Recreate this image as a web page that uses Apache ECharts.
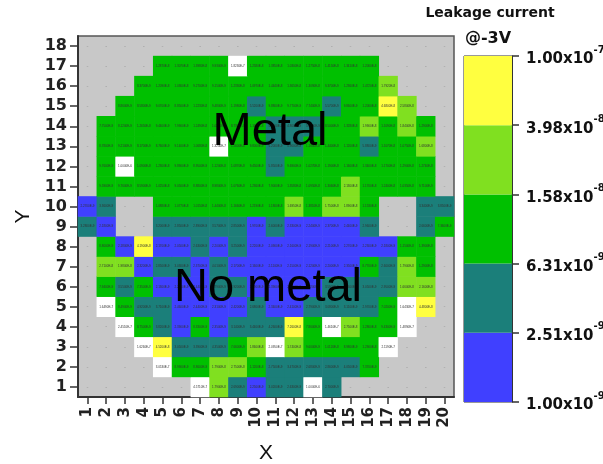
<!DOCTYPE html>
<html>
<head>
<meta charset="utf-8">
<script src="https://cdn.jsdelivr.net/npm/echarts@6/dist/echarts.min.js"></script>
<style>
  html, body { margin: 0; padding: 0; background: #ffffff; }
  #chart { width: 603px; height: 464px; }
</style>
</head>
<body>
<div id="chart"></div>
<script>
// Wafer map: die columns (X) and rows (Y)
const xLabels = ['1','2','3','4','5','6','7','8','9','10','11','12','13','14','15','16','17','18','19','20'];
const yLabels = ['1','2','3','4','5','6','7','8','9','10','11','12','13','14','15','16','17','18'];

// Leakage current at -3 V for each die, in nA; one list per row, X = 1..20; null = die not measured
const row01 = [null,null,null,null,null,null,457.1,17.9,2.69,2.25,3.02,2.63,1000,2.70,null,null,null,null,null,null];
const row02 = [null,null,null,null,305.3,8.99,8.86,17.9,27.5,11.2,2.75,3.47,2.68,2.86,4.05,7.37,null,null,null,null];
const row03 = [null,null,null,162.6,45.2,3.05,3.39,4.35,7.66,18.6,209.5,17.4,9.60,10.12,8.98,12.90,211.9,null,null,null];
const row04 = [null,null,245.1,8.75,3.82,2.39,8.33,2.35,3.14,3.44,4.26,72.6,7.86,146.1,27.5,12.86,9.43,148.9,null,null];
const row05 = [null,164.9,8.49,4.92,3.71,2.46,2.44,2.31,2.42,2.68,2.34,2.41,2.79,3.08,3.11,2.97,7.02,164.3,44.8,null];
const row06 = [null,7.94,3.55,7.35,2.13,2.28,2.44,2.79,2.92,2.29,2.39,2.18,2.22,3.59,3.26,3.05,2.95,16.6,21.6,null];
const row07 = [null,27.1,19.8,2.32,2.85,3.03,2.37,4.01,2.17,2.16,2.11,2.15,2.12,2.20,2.35,8.77,2.60,17.9,12.9,null];
const row08 = [null,8.80,2.18,41.9,2.17,2.05,2.63,2.20,3.25,2.22,2.09,2.16,2.19,2.21,2.27,2.23,2.18,11.5,13.9,null];
const row09 = [3.28,2.18,null,null,3.20,2.85,2.89,3.57,2.85,1.97,2.60,2.33,2.24,2.37,2.44,2.96,null,null,2.66,7.36];
const row10 = [2.27,3.36,null,null,10.88,10.77,10.15,14.40,11.66,12.19,11.80,16.95,13.81,17.50,18.90,11.53,null,null,3.34,3.85];
const row11 = [null,9.59,9.76,8.59,10.25,9.05,8.88,8.98,10.76,12.36,7.90,13.58,10.95,13.06,21.30,11.70,12.40,10.35,9.71,null];
const row12 = [null,9.76,1000,10.90,12.30,9.89,8.95,11.20,10.87,9.45,5.85,9.69,10.27,11.90,11.60,13.40,11.70,12.90,12.74,null];
const row13 = [null,8.78,9.21,8.17,8.76,9.14,10.68,132.4,12.60,9.80,5.20,4.90,11.60,14.40,11.20,5.88,11.07,10.75,16.80,null];
const row14 = [null,7.75,8.12,12.65,9.44,7.99,12.49,10.20,8.73,11.60,5.90,4.80,5.60,8.50,13.28,19.90,11.09,18.40,12.90,null];
const row15 = [null,null,8.86,8.58,9.07,8.85,12.23,9.48,11.98,5.52,9.88,9.77,7.74,5.57,9.86,12.06,46.8,25.8,null,null];
const row16 = [null,null,null,8.37,12.09,10.36,9.27,9.15,12.33,10.97,14.44,13.65,13.09,9.37,12.36,14.72,17.92,null,null,null];
const row17 = [null,null,null,null,12.87,13.07,13.98,9.93,182.3,12.58,13.85,10.30,12.75,14.15,13.41,12.06,null,null,null,null];
const row18 = [null,null,null,null,null,null,null,null,null,null,null,null,null,null,null,null,null,null,null,null];

// Colour bands of the scale (nA) and their tick labels
const bandEdges = [1, 2.51, 6.31, 15.8, 39.8, 100];
const bandColors = ['#4040ff', '#1b7f7a', '#00c000', '#80e020', '#ffff40'];
const colorbarTicks = ['1.00x10^-9', '2.51x10^-9', '6.31x10^-9', '1.58x10^-8', '3.98x10^-8', '1.00x10^-7'];

const rows = [row01,row02,row03,row04,row05,row06,row07,row08,row09,row10,row11,row12,row13,row14,row15,row16,row17,row18];
const cells = [];
const blanks = [];
rows.forEach((row, yi) => row.forEach((v, xi) => {
  if (v == null) blanks.push([xi, yi]);
  else cells.push([xi, yi, v]);
}));

const pieces = [{ gte: bandEdges[5], color: '#ffffff' }];
for (let i = bandColors.length - 1; i >= 0; i--) {
  const p = { color: bandColors[i] };
  if (i > 0) p.gte = bandEdges[i];
  p.lt = bandEdges[i + 1];
  pieces.push(p);
}

const boldFont = 'DejaVu Sans';
const chart = echarts.init(document.getElementById('chart'), null, { renderer: 'canvas' });

chart.setOption({
  animation: false,
  grid: [
    { left: 78, top: 36, width: 376, height: 361, outerBoundsMode: 'none', show: true, backgroundColor: '#c8c8c8', borderColor: '#555', borderWidth: 1.5 },
    { left: 464, top: 56, width: 48, height: 346, outerBoundsMode: 'none', show: true, borderColor: '#333', borderWidth: 1 }
  ],
  xAxis: [
    {
      type: 'category', gridIndex: 0, data: xLabels,
      name: 'X', nameLocation: 'middle', nameGap: 46,
      nameTextStyle: { fontSize: 21, fontFamily: 'Liberation Sans', color: '#111' },
      axisLine: { show: true, lineStyle: { color: '#333', width: 2 } },
      axisTick: { show: true, interval: 0, alignWithLabel: true, length: 7, lineStyle: { color: '#333', width: 1.5 } },
      axisLabel: { interval: 0, rotate: 90, margin: 10, fontSize: 15, fontWeight: 'bold', fontFamily: boldFont, color: '#222' },
      splitLine: { show: false }
    },
    { type: 'category', gridIndex: 1, data: ['scale'], show: false, boundaryGap: true }
  ],
  yAxis: [
    {
      type: 'category', gridIndex: 0, data: yLabels,
      name: 'Y', nameLocation: 'middle', nameGap: 42,
      nameTextStyle: { fontSize: 21, fontFamily: 'Liberation Sans', color: '#111' },
      axisLine: { show: true, lineStyle: { color: '#333', width: 2 } },
      axisTick: { show: true, interval: 0, alignWithLabel: true, length: 8, lineStyle: { color: '#333', width: 1.5 } },
      axisLabel: { interval: 0, margin: 11, fontSize: 16, fontWeight: 'bold', fontFamily: boldFont, color: '#222' },
      splitLine: { show: false }
    },
    {
      type: 'value', gridIndex: 1, min: 0, max: 5, interval: 1, position: 'right',
      axisLine: { show: true, lineStyle: { color: '#333', width: 1 } },
      axisTick: { show: true, length: 7, lineStyle: { color: '#333', width: 1.5 } },
      splitLine: { show: false },
      axisLabel: {
        margin: 14,
        formatter: (v) => {
          const parts = colorbarTicks[v].split('^');
          return '{b|' + parts[0] + '}{s|' + parts[1] + '}';
        },
        rich: {
          b: { fontSize: 15, fontWeight: 'bold', fontFamily: boldFont, color: '#111', lineHeight: 22, verticalAlign: 'bottom' },
          s: { fontSize: 10, fontWeight: 'bold', fontFamily: boldFont, color: '#111', lineHeight: 10, verticalAlign: 'top' }
        }
      }
    }
  ],
  visualMap: {
    type: 'piecewise', show: false, seriesIndex: 0, dimension: 2, pieces: pieces
  },
  series: [
    {
      type: 'heatmap', xAxisIndex: 0, yAxisIndex: 0, data: cells, silent: true,
      itemStyle: { borderWidth: 0 },
      label: {
        show: true, fontSize: 3, color: '#333', fontFamily: 'Liberation Sans',
        formatter: (p) => (p.value[2] * 1e-9).toExponential(4).toUpperCase()
      }
    },
    {
      type: 'scatter', xAxisIndex: 0, yAxisIndex: 0, data: blanks, silent: true,
      symbolSize: 0,
      label: { show: true, position: 'inside', formatter: '-', fontSize: 6, color: '#8c8c8c' }
    }
  ].concat(bandColors.map((c) => ({
    type: 'bar', xAxisIndex: 1, yAxisIndex: 1, stack: 'scale', data: [1],
    barWidth: '100%', silent: true, itemStyle: { color: c }
  }))),
  graphic: [
    { type: 'text', x: 490, y: 13, z: 100, style: { text: 'Leakage current', fontSize: 14, fontWeight: 'bold', fontFamily: boldFont, fill: '#111', textAlign: 'center', textVerticalAlign: 'middle' } },
    { type: 'text', x: 488, y: 39, z: 100, style: { text: '@-3V', fontSize: 16, fontWeight: 'bold', fontFamily: boldFont, fill: '#111', textAlign: 'center', textVerticalAlign: 'middle' } },
    { type: 'text', x: 270, y: 132, z: 100, style: { text: 'Metal', fontSize: 47, fontFamily: 'Liberation Sans', fill: '#000', textAlign: 'center', textVerticalAlign: 'middle' } },
    { type: 'text', x: 268, y: 288, z: 100, style: { text: 'No metal', fontSize: 47, fontFamily: 'Liberation Sans', fill: '#000', textAlign: 'center', textVerticalAlign: 'middle' } }
  ]
});
</script>
</body>
</html>
